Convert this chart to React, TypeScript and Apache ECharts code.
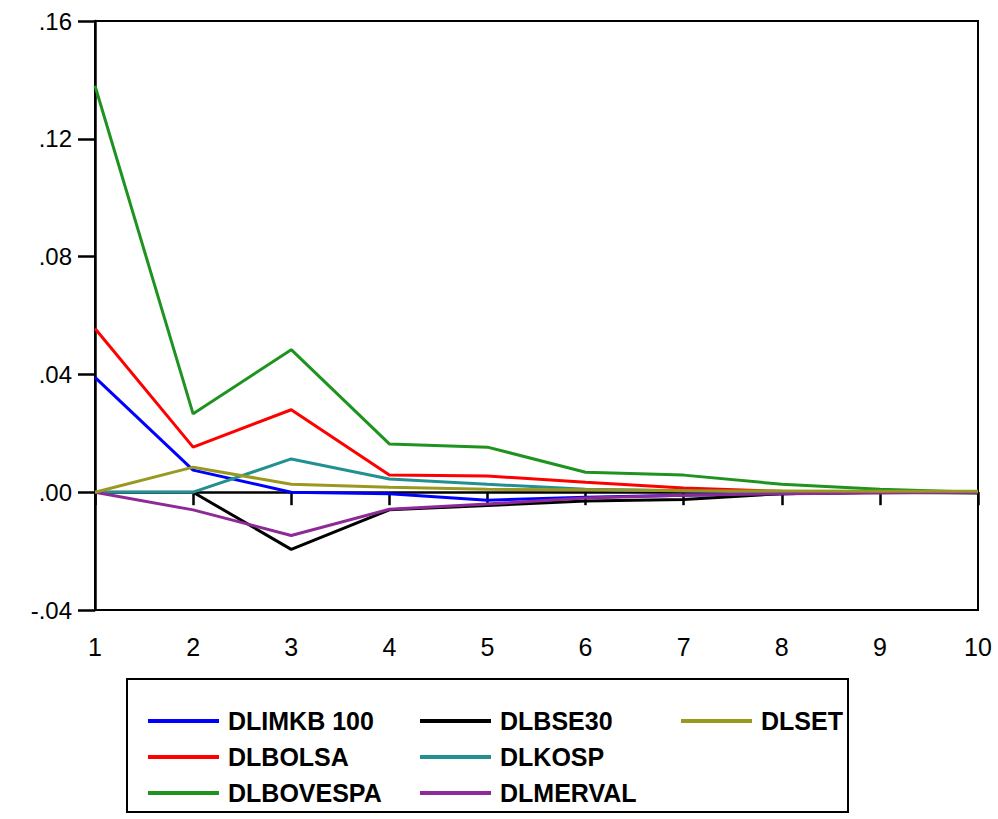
import React, { useEffect, useRef } from "react";
import * as echarts from "echarts";

const periods = ["1", "2", "3", "4", "5", "6", "7", "8", "9", "10"];
const dlimkb100 = [0.039, 0.0075, 0.0, -0.0005, -0.0027, -0.0017, -0.001, -0.0005, 0.0, 0.0];
const dlbolsa = [0.0556, 0.0153, 0.028, 0.0058, 0.0055, 0.0034, 0.0014, 0.0003, 0.0, 0.0];
const dlbovespa = [0.138, 0.0266, 0.0484, 0.0164, 0.0153, 0.0068, 0.0058, 0.0027, 0.001, 0.0];
const dlbse30 = [0.0, 0.0, -0.0194, -0.006, -0.0045, -0.003, -0.0025, -0.0005, 0.0, -0.0003];
const dlkosp = [0.0, 0.0, 0.0113, 0.0045, 0.0027, 0.001, 0.0005, 0.0, 0.0, 0.0];
const dlmerval = [0.0, -0.006, -0.0147, -0.0058, -0.004, -0.002, -0.001, -0.0005, -0.0003, 0.0];
const dlset = [0.0, 0.0085, 0.0027, 0.0017, 0.001, 0.0008, 0.0005, 0.0004, 0.0003, 0.0003];

const seriesDefs = [
  { name: "DLIMKB 100", data: dlimkb100, color: "#0000ff" },
  { name: "DLBOLSA", data: dlbolsa, color: "#ff0000" },
  { name: "DLBOVESPA", data: dlbovespa, color: "#1f931f" },
  { name: "DLBSE30", data: dlbse30, color: "#000000" },
  { name: "DLKOSP", data: dlkosp, color: "#229090" },
  { name: "DLMERVAL", data: dlmerval, color: "#8e2a98" },
  { name: "DLSET", data: dlset, color: "#999922" },
];

const legendCols = [
  { names: ["DLIMKB 100", "DLBOLSA", "DLBOVESPA"], left: 143 },
  { names: ["DLBSE30", "DLKOSP", "DLMERVAL"], left: 415 },
  { names: ["DLSET"], left: 676 },
];

const FONT = "'Liberation Sans', Arial, sans-serif";

export default function App() {
  const ref = useRef<HTMLDivElement>(null);
  useEffect(() => {
    if (!ref.current) return;
    const chart = echarts.init(ref.current, undefined, { renderer: "svg" });
    const fmt = (v: number) => {
      const s = v.toFixed(2);
      return s.replace(/^(-?)0\./, "$1.");
    };
    chart.setOption({
      animation: false,
      backgroundColor: "#ffffff",
      grid: {
        left: 95,
        right: 20,
        top: 21,
        bottom: 209,
        show: true,
        borderColor: "#000",
        borderWidth: 2,
        backgroundColor: "transparent",
      },
      xAxis: {
        type: "category",
        data: periods,
        boundaryGap: false,
        axisLine: { lineStyle: { color: "#000", width: 2.5 } },
        axisTick: { show: true, alignWithLabel: true, length: 13, lineStyle: { color: "#000", width: 2.5 } },
        axisLabel: { color: "#000", fontFamily: FONT, fontSize: 25, margin: 24 },
        splitLine: { show: false },
      },
      yAxis: {
        type: "value",
        min: -0.04,
        max: 0.16,
        interval: 0.04,
        axisLine: { show: true, lineStyle: { color: "#000", width: 2.5 } },
        axisTick: { show: true, length: 17, lineStyle: { color: "#000", width: 2.5 } },
        axisLabel: { color: "#000", fontFamily: FONT, fontSize: 24, margin: 23, formatter: fmt },
        splitLine: { show: false },
      },
      legend: legendCols.map((c) => ({
        data: c.names,
        orient: "vertical",
        left: c.left,
        top: 703,
        itemWidth: 71,
        itemHeight: 4,
        itemGap: 10,
        icon: "rect",
        selectedMode: false,
        textStyle: {
          color: "#000",
          fontFamily: FONT,
          fontWeight: "bold",
          fontSize: 25,
          lineHeight: 26,
          padding: [0, 0, 0, 4],
        },
      })),
      graphic: [
        {
          type: "rect",
          shape: { x: 127, y: 679, width: 721, height: 133 },
          style: { fill: "none", stroke: "#000", lineWidth: 2 },
          z: 0,
        },
      ],
      series: seriesDefs.map((s) => ({
        name: s.name,
        type: "line",
        data: s.data,
        showSymbol: false,
        symbol: "none",
        lineStyle: { color: s.color, width: 3 },
        itemStyle: { color: s.color },
        color: s.color,
      })),
    });
    return () => chart.dispose();
  }, []);
  return (
    <div
      ref={ref}
      style={{ position: "fixed", left: 0, top: 0, width: 998, height: 819 }}
    />
  );
}
